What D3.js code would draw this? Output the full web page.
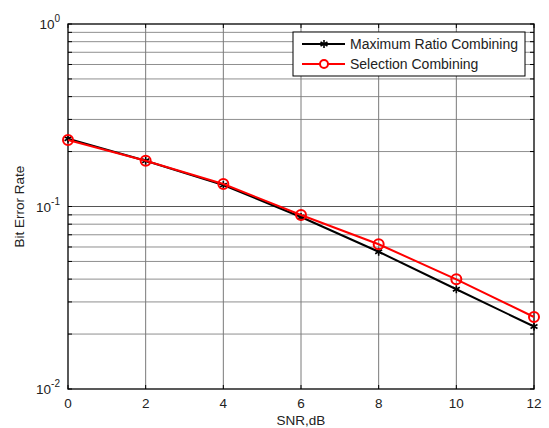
<!DOCTYPE html>
<html>
<head>
<meta charset="utf-8">
<script src="https://cdn.jsdelivr.net/npm/d3@7"></script>
<style>
  body { margin: 0; background: #fff; }
  text { font-family: "Liberation Sans", Arial, sans-serif; fill: #222; }
</style>
</head>
<body>
<div id="chart"></div>
<script>
var snr = [0, 2, 4, 6, 8, 10, 12];
var berMRC = [0.235, 0.178, 0.131, 0.0876, 0.0565, 0.0352, 0.0220];
var berSC = [0.2314, 0.178, 0.1329, 0.0898, 0.0621, 0.0399, 0.0248];
var xTicks = [0, 2, 4, 6, 8, 10, 12];
var yDecades = [-2, -1, 0];
var legendLabels = ["Maximum Ratio Combining", "Selection Combining"];

var W = 549, H = 428;
var m = {left: 68, top: 24, right: 534, bottom: 389};

var svg = d3.select("#chart").append("svg")
	.attr("width", W)
	.attr("height", H);

var x = d3.scaleLinear().domain([0, 12]).range([m.left, m.right]);
var y = d3.scaleLog().domain([0.01, 1]).range([m.bottom, m.top]);

// minor grid values 2..9 per decade
var minors = [];
[0.01, 0.1].forEach(function(d){
	for (var k = 2; k <= 9; k++) minors.push(d * k);
});

var grid = svg.append("g");
minors.forEach(function(v){
	grid.append("line")
		.attr("x1", m.left).attr("x2", m.right)
		.attr("y1", y(v)).attr("y2", y(v))
		.style("stroke", "#8f8f8f").style("stroke-width", 1);
});
grid.append("line")
	.attr("x1", m.left).attr("x2", m.right)
	.attr("y1", y(0.1)).attr("y2", y(0.1))
	.style("stroke", "#555").style("stroke-width", 1);
xTicks.slice(1, -1).forEach(function(t){
	grid.append("line")
		.attr("x1", x(t)).attr("x2", x(t))
		.attr("y1", m.top).attr("y2", m.bottom)
		.style("stroke", "#7a7a7a").style("stroke-width", 1);
});

// axes box with inward ticks
var axisG = svg.append("g");
axisG.append("rect")
	.attr("x", m.left).attr("y", m.top)
	.attr("width", m.right - m.left).attr("height", m.bottom - m.top)
	.style("fill", "none").style("stroke", "#000").style("stroke-width", 1.3);

xTicks.forEach(function(t){
	axisG.append("line").attr("x1", x(t)).attr("x2", x(t))
		.attr("y1", m.bottom).attr("y2", m.bottom - 4).style("stroke", "#000");
	axisG.append("line").attr("x1", x(t)).attr("x2", x(t))
		.attr("y1", m.top).attr("y2", m.top + 4).style("stroke", "#000");
	axisG.append("text")
		.attr("x", x(t)).attr("y", m.bottom + 19)
		.attr("text-anchor", "middle")
		.style("font-size", "13.5px")
		.text(t);
});

minors.concat([0.01, 0.1, 1]).forEach(function(v){
	axisG.append("line").attr("x1", m.left).attr("x2", m.left + 4)
		.attr("y1", y(v)).attr("y2", y(v)).style("stroke", "#000");
	axisG.append("line").attr("x1", m.right).attr("x2", m.right - 4)
		.attr("y1", y(v)).attr("y2", y(v)).style("stroke", "#000");
});

yDecades.forEach(function(e){
	var t = axisG.append("text")
		.attr("x", m.left - 8).attr("y", y(Math.pow(10, e)) + 5)
		.attr("text-anchor", "end")
		.style("font-size", "13.5px");
	t.append("tspan").text("10");
	t.append("tspan").attr("dy", -7).style("font-size", "10px").text(e);
});

svg.append("text")
	.attr("x", (m.left + m.right) / 2).attr("y", 425)
	.attr("text-anchor", "middle")
	.style("font-size", "13.5px")
	.text("SNR,dB");

svg.append("text")
	.attr("transform", "translate(24," + ((m.top + m.bottom) / 2) + ") rotate(-90)")
	.attr("text-anchor", "middle")
	.style("font-size", "13.5px")
	.text("Bit Error Rate");

// series
var line = d3.line()
	.x(function(d){ return x(d[0]); })
	.y(function(d){ return y(d[1]); });

var mrc = d3.zip(snr, berMRC);
var sc = d3.zip(snr, berSC);

function star(g, cx, cy, r) {
	[0, 60, 120].forEach(function(a){
		var rad = a * Math.PI / 180;
		g.append("line")
			.attr("x1", cx - r * Math.sin(rad)).attr("y1", cy - r * Math.cos(rad))
			.attr("x2", cx + r * Math.sin(rad)).attr("y2", cy + r * Math.cos(rad))
			.style("stroke", "#000").style("stroke-width", 1.6);
	});
}

var series = svg.append("g");
series.append("path").attr("d", line(mrc))
	.style("fill", "none").style("stroke", "#000").style("stroke-width", 2);
mrc.forEach(function(d){ star(series, x(d[0]), y(d[1]), 4); });

series.append("path").attr("d", line(sc))
	.style("fill", "none").style("stroke", "#f00").style("stroke-width", 2);
sc.forEach(function(d){
	series.append("circle")
		.attr("cx", x(d[0])).attr("cy", y(d[1])).attr("r", 5)
		.style("fill", "none").style("stroke", "#f00").style("stroke-width", 2);
});

// legend
var lg = svg.append("g");
lg.append("rect")
	.attr("x", 293).attr("y", 32).attr("width", 232).attr("height", 44)
	.style("fill", "#fff").style("stroke", "#000").style("stroke-width", 1);
[44, 64].forEach(function(ly, i){
	lg.append("line")
		.attr("x1", 302).attr("x2", 345).attr("y1", ly).attr("y2", ly)
		.style("stroke", i === 0 ? "#000" : "#f00").style("stroke-width", 2);
	if (i === 0) star(lg, 324, ly, 4);
	else lg.append("circle").attr("cx", 324).attr("cy", ly).attr("r", 4)
		.style("fill", "#fff").style("stroke", "#f00").style("stroke-width", 2);
	lg.append("text")
		.attr("x", 350).attr("y", ly + 5)
		.style("font-size", "14px")
		.text(legendLabels[i]);
});
</script>
</body>
</html>
